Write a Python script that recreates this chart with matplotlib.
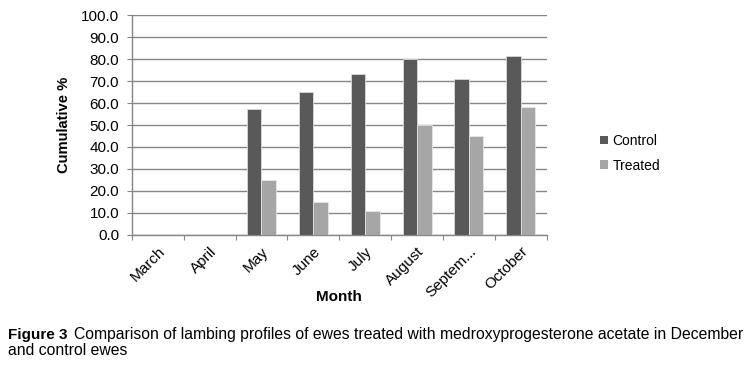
import numpy as np
import matplotlib
matplotlib.use("Agg")
import matplotlib.pyplot as plt
from matplotlib.patches import Patch

# データ
months = ["March", "April", "May", "June", "July", "August", "Septem...", "October"]
control = [0, 0, 57.4, 65.0, 73.1, 80.0, 71.0, 81.4]
treated = [0, 0, 25.1, 15.0, 10.6, 50.0, 45.0, 58.0]

plt.rcParams['font.family'] = ['Liberation Sans', 'DejaVu Sans']

fig = plt.figure(figsize=(7.49, 3.65), dpi=100)
ax = fig.add_axes([0.176, 0.357, 0.554, 0.601])

x = np.arange(len(months))
w = 0.28
ax.bar(x - w / 2, control, w, color='#595959', edgecolor='#d9d9d9', linewidth=0.6, zorder=3)
ax.bar(x + w / 2, treated, w, color='#a6a6a6', edgecolor='#e6e6e6', linewidth=0.6, zorder=3)

# 軸の設定
ax.set_xlim(-0.5, len(months) - 0.5)
ax.set_ylim(0, 100)
yt = np.arange(0, 101, 10)
ax.set_yticks(yt)
ax.set_yticklabels([f"{v:.1f}" for v in yt], fontsize=11)
ax.yaxis.grid(True, color='#868686', linewidth=1, zorder=0)
ax.set_axisbelow(True)

ax.set_xticks(np.arange(len(months) + 1) - 0.5)
ax.set_xticklabels([])
ax.set_xticks(x, minor=True)
ax.set_xticklabels(months, minor=True, rotation=45, ha='right',
                   rotation_mode='anchor', fontsize=11)
ax.tick_params(axis='x', which='minor', length=0, pad=7)
ax.tick_params(axis='x', which='major', length=3.6, color='#868686')
ax.tick_params(axis='y', length=3.6, color='#868686', pad=5.5)

for s in ['top', 'right']:
    ax.spines[s].set_visible(False)
for s in ['left', 'bottom']:
    ax.spines[s].set_color('#868686')
    ax.spines[s].set_linewidth(1)

ax.set_ylabel("Cumulative %", fontsize=10.6, fontweight='bold', labelpad=7)
ax.set_xlabel("Month", fontsize=11, fontweight='bold', labelpad=-7)

# 凡例
handles = [Patch(facecolor='#595959', label='Control'),
           Patch(facecolor='#a6a6a6', label='Treated')]
fig.legend(handles=handles, loc='center left', bbox_to_anchor=(0.785, 0.58),
           frameon=False, fontsize=10, handlelength=0.55, handleheight=0.55,
           handletextpad=0.3, labelspacing=0.75)

# キャプション
cap1 = fig.text(0.011, 0.071, "Figure 3", fontsize=11, fontweight='bold', va='baseline')
renderer = fig.canvas.get_renderer()
bb = cap1.get_window_extent(renderer)
x0 = (bb.x1 + 6) / fig.bbox.width
fig.text(x0, 0.071,
         "Comparison of lambing profiles of ewes treated with medroxyprogesterone acetate in December",
         fontsize=11.35, va='baseline')
fig.text(0.011, 0.027, "and control ewes", fontsize=11.35, va='baseline')

fig.savefig("out.png", dpi=100)
